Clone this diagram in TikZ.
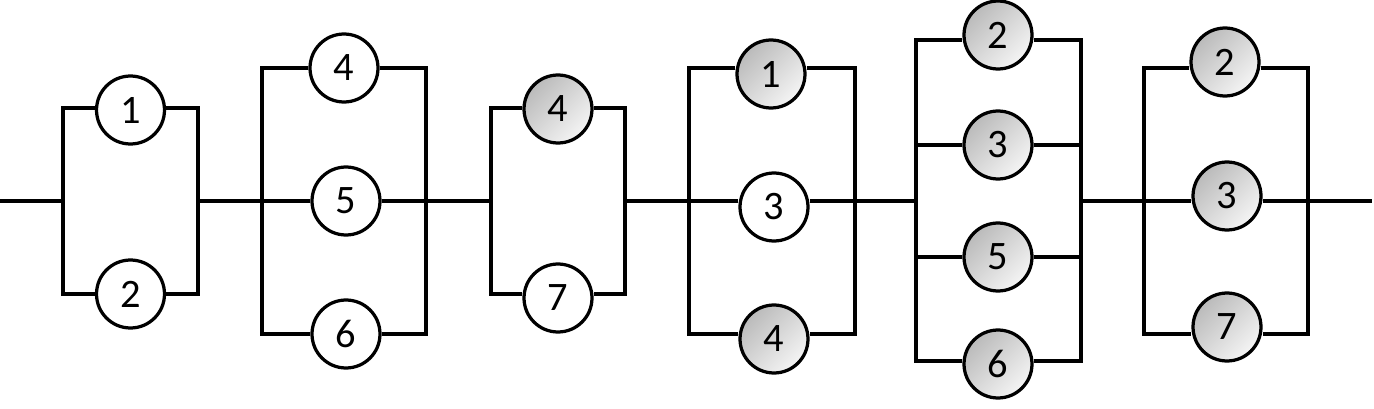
\documentclass[tikz,border=0pt]{standalone}
\usepackage{fontspec}
\setmainfont{Carlito}
\tikzset{
wire/.style={line width=1.85pt},
unit/.style={circle,draw,line width=1.85pt,minimum size=1.36cm,inner sep=0pt,font=\fontsize{23}{24}\selectfont},
plain/.style={unit,fill=white},
worn/.style={unit,top color=black!27,bottom color=black!4,shading angle=45}
}
\begin{document}
\begin{tikzpicture}[line cap=butt,line join=miter,x=.02cm,y=-.02cm]
\useasboundingbox (0,0) rectangle (1374,409);
\node[plain] (a1) at (130.5,110) {1};
\node[plain] (a2) at (130.5,294) {2};
\node[plain] (b4) at (344,68) {4};
\node[plain] (b5) at (346,201) {5};
\node[plain] (b6) at (346,334) {6};
\node[worn] (c4) at (558,109) {4};
\node[plain] (c7) at (558,298) {7};
\node[worn] (d1) at (771,74) {1};
\node[plain] (d3) at (774,207) {3};
\node[worn] (d4) at (774,339) {4};
\node[worn] (e2) at (998,35) {2};
\node[worn] (e3) at (998,145) {3};
\node[worn] (e5) at (998,257) {5};
\node[worn] (e6) at (998,364) {6};
\node[worn] (f2) at (1225,62) {2};
\node[worn] (f3) at (1227,196) {3};
\node[worn] (f7) at (1227,327) {7};
% ends of the main line
\coordinate (start) at (0,201);
\coordinate (end) at (1372,201);
% upper and lower corners of each block
\coordinate (al) at (63,108);   \coordinate (ar) at (198,108);
\coordinate (as) at (63,294);   \coordinate (at) at (198,294);
\coordinate (bl) at (262,68);   \coordinate (br) at (426,68);
\coordinate (bs) at (262,334);  \coordinate (bt) at (426,334);
\coordinate (cl) at (491,108);  \coordinate (cr) at (625,108);
\coordinate (cs) at (491,294);  \coordinate (ct) at (625,294);
\coordinate (dl) at (689,68);   \coordinate (dr) at (855,68);
\coordinate (ds) at (689,334);  \coordinate (dt) at (855,334);
\coordinate (el) at (916,40);   \coordinate (er) at (1081,40);
\coordinate (es) at (916,361);  \coordinate (et) at (1081,361);
\coordinate (fl) at (1144,68);  \coordinate (fr) at (1308,68);
\coordinate (fs) at (1144,334); \coordinate (ft) at (1308,334);
% main line between the blocks
\draw[wire] (start) -- (al |- start);
\draw[wire] (ar |- start) -- (bl |- start);
\draw[wire] (br |- start) -- (cl |- start);
\draw[wire] (cr |- start) -- (dl |- start);
\draw[wire] (dr |- start) -- (el |- start);
\draw[wire] (er |- start) -- (fl |- start);
\draw[wire] (fr |- start) -- (end);
% outer loop of each block
\foreach \blk/\up/\dn in {a/a1/a2,b/b4/b6,c/c4/c7,d/d1/d4,e/e2/e6,f/f2/f7}{
\draw[wire] (\up.west |- \blk l) -- (\blk l) -- (\blk s) -- (\dn.west |- \blk s);
\draw[wire] (\up.east |- \blk r) -- (\blk r) -- (\blk t) -- (\dn.east |- \blk t);
}
% middle branches
\foreach \mid/\blk in {b5/b,d3/d,f3/f}{
\draw[wire] (\blk l |- start) -- (\mid.west |- start);
\draw[wire] (\mid.east |- start) -- (\blk r |- start);
}
\foreach \mid in {e3,e5}{
\draw[wire] (el |- \mid) -- (\mid.west);
\draw[wire] (\mid.east) -- (er |- \mid);
}
\end{tikzpicture}
\end{document}
